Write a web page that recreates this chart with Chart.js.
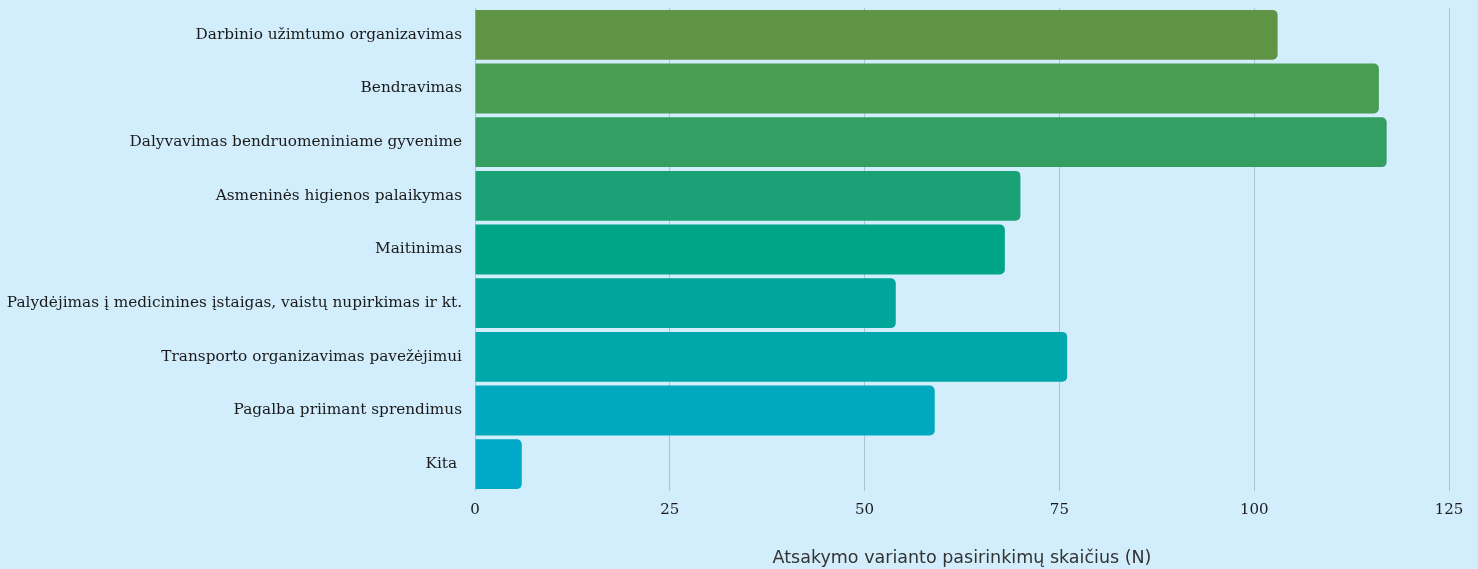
<!DOCTYPE html>
<html>
<head>
<meta charset="utf-8">
<script src="https://cdn.jsdelivr.net/npm/chart.js@4/dist/chart.umd.min.js"></script>
<style>
    html, body { margin: 0; padding: 0; background: #d2eefc; }
    #wrap { width: 1478px; height: 569px; }
</style>
</head>
<body>
<div id="wrap"><canvas id="chart"></canvas></div>
<script>
// categories + values
var categories = [
    'Darbinio užimtumo organizavimas',
    'Bendravimas',
    'Dalyvavimas bendruomeniniame gyvenime',
    'Asmeninės higienos palaikymas',
    'Maitinimas',
    'Palydėjimas į medicinines įstaigas, vaistų nupirkimas ir kt.',
    'Transporto organizavimas pavežėjimui',
    'Pagalba priimant sprendimus',
    'Kita '
];
var counts = [103, 116, 117, 70, 68, 54, 76, 59, 6];
var barColors = ['#5e9443', '#4a9b53', '#359e63', '#1aa276', '#00a587', '#00a69a', '#00a8ab', '#00a9bd', '#00a9c8'];
var xTicks = [0, 25, 50, 75, 100, 125];
var axisTitle = 'Atsakymo varianto pasirinkimų skaičius (N)';

var ctx = document.getElementById('chart');
new Chart(ctx, {
    type: 'bar',
    data: {
        labels: categories,
        datasets: [{
            data: counts,
            backgroundColor: barColors,
            borderWidth: 0,
            borderRadius: 5,
            barPercentage: 0.93,
            categoryPercentage: 1
        }]
    },
    options: {
        indexAxis: 'y',
        responsive: true,
        maintainAspectRatio: false,
        animation: false,
        layout: {
            padding: { top: 8, right: 29, left: 0, bottom: 0 }
        },
        plugins: {
            legend: { display: false },
            tooltip: { enabled: false }
        },
        scales: {
            x: {
                min: 0,
                max: 125,
                afterBuildTicks: function(scale) {
                    scale.ticks = xTicks.map(function(v) { return { value: v }; });
                },
                afterFit: function(scale) {
                    scale.height = 78;
                    scale.paddingLeft = 0;
                    scale.paddingRight = 0;
                },
                border: { display: false },
                grid: {
                    color: '#a9c4d3',
                    lineWidth: 1,
                    drawTicks: false
                },
                ticks: {
                    color: '#1a1a1a',
                    padding: 10,
                    font: { family: 'DejaVu Serif', size: 15 }
                },
                title: {
                    display: true,
                    text: axisTitle,
                    color: '#333',
                    padding: { top: 24, bottom: 0 },
                    font: { family: 'DejaVu Sans', size: 17.5 }
                }
            },
            y: {
                afterFit: function(scale) {
                    scale.width = 475;
                    scale.paddingTop = 0;
                    scale.paddingBottom = 0;
                },
                border: { display: false },
                grid: { display: false, drawTicks: false },
                ticks: {
                    color: '#1a1a1a',
                    padding: 13,
                    font: { family: 'DejaVu Serif', size: 15.3 }
                }
            }
        }
    }
});
</script>
</body>
</html>
